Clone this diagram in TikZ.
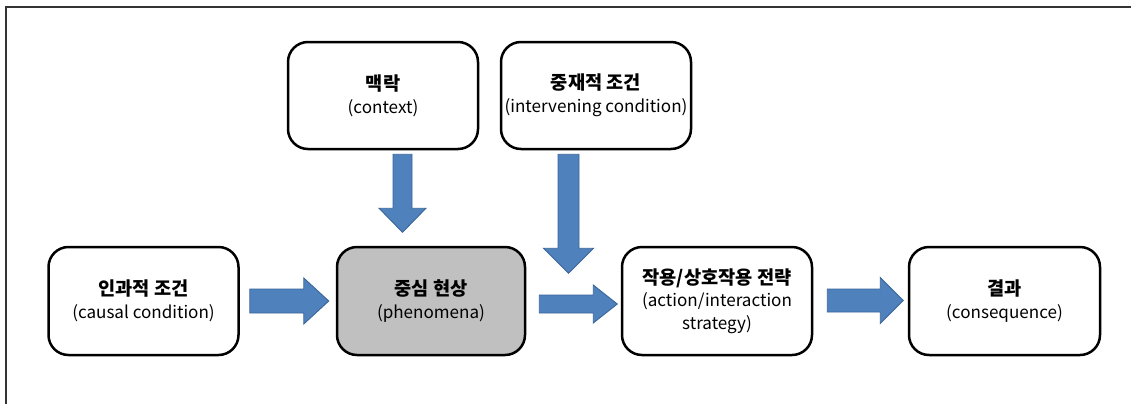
\documentclass[tikz,border=0pt]{standalone}
\usepackage{fontspec}
\setmainfont{Noto Sans CJK KR}
\usetikzlibrary{calc}
\newdimen\pxu \pxu=0.75pt
\definecolor{arrfill}{HTML}{4F81BD}
\definecolor{arrline}{HTML}{3A6699}
\definecolor{phengray}{HTML}{C0C0C0}
\tikzset{
  box/.style={draw=black, line width=2.5\pxu, rounded corners=20\pxu, fill=white,
    minimum width=190\pxu, minimum height=108\pxu, align=center, inner sep=0pt,
    font=\fontsize{12.8pt}{17pt}\selectfont},
  blockarr/.style={fill=arrfill, draw=arrline, line width=0.9\pxu, line join=miter},
  frameline/.style={draw=black!80, line width=1.5\pxu}
}
% horizontal block arrow: tail centre, length, shaft half, head half, head length
\newcommand{\harr}[5]{\filldraw[blockarr] (#1) ++(0,-#3) -- ++(#2-#5,0) -- ++(0,#3-#4) -- ++(#5,#4) -- ++(-#5,#4) -- ++(0,#3-#4) -- ++(-#2+#5,0) -- cycle;}
% vertical (downward) block arrow
\newcommand{\varr}[5]{\filldraw[blockarr] (#1) ++(-#3,0) -- ++(0,#2-#5) -- ++(#3-#4,0) -- ++(#4,#5) -- ++(#4,-#5) -- ++(#3-#4,0) -- ++(0,-#2+#5) -- cycle;}
\newcommand{\kt}[1]{{\fontsize{14pt}{17pt}\selectfont\bfseries #1}}
\begin{document}
\begin{tikzpicture}[x=0.75pt, y=-0.75pt]
\useasboundingbox (0,0) rectangle (1131,404);
\fill[white] (0,0) rectangle (1131,404);
\draw[frameline] (6,404) -- (6,7) -- (1131,7);

\node[box] (causal) at (143.5,301) {\kt{인과적 조건}\\(causal condition)};
\node[box] (context) at (383,95.5) [minimum height=107\pxu] {\kt{맥락}\\(context)};
\node[box] (interv) at (596,95.5) [minimum height=107\pxu] {\kt{중재적 조건}\\(intervening condition)};
\node[box, fill=phengray, minimum width=188\pxu] (phen) at (431,301) {\kt{중심 현상}\\(phenomena)};
\node[box] (action) at (717,301) {\kt{작용/상호작용 전략}\\(action/interaction\\strategy)};
\node[box, minimum width=191\pxu] (conseq) at (1004.5,301) {\kt{결과}\\(consequence)};

\coordinate (a1) at ($(causal.east)+(10,0)$);
\coordinate (a2) at ($(context.south)+(19.5,4)$);
\coordinate (a3) at ($(interv.south)+(-27.5,4)$);
\coordinate (a4) at ($(phen.east)+(13,3)$);
\coordinate (a5) at ($(action.east)+(14,-0.5)$);

\harr{a1}{79}{12}{23}{25}
\varr{a2}{78}{9.5}{23.5}{24}
\varr{a3}{119}{10.5}{25}{25}
\harr{a4}{78}{9}{19}{24}
\harr{a5}{76}{11.5}{23}{23}
\end{tikzpicture}
\end{document}
